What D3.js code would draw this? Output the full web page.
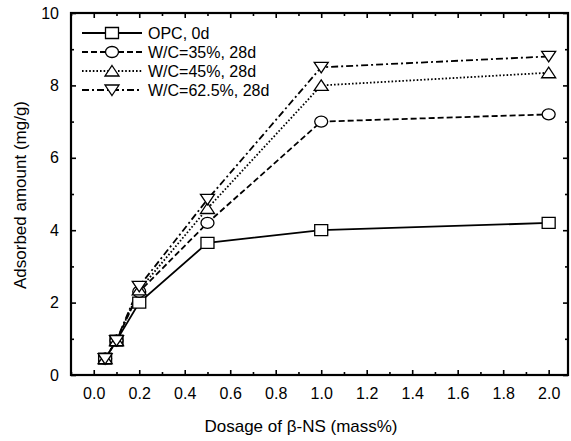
<!DOCTYPE html>
<html>
<head>
<meta charset="utf-8">
<script src="https://cdn.jsdelivr.net/npm/d3@7"></script>
<style>
  body { margin: 0; background: #fff; }
  text { font-family: "Liberation Sans", Arial, sans-serif; fill: #000; }
</style>
</head>
<body>
<div id="chart"></div>
<script>
// DATA
const dosage = [0.05, 0.1, 0.2, 0.5, 1.0, 2.0];
const opc0d = [0.45, 0.95, 2.0, 3.65, 4.0, 4.2];
const wc35 = [0.45, 0.95, 2.3, 4.2, 7.0, 7.2];
const wc45 = [0.45, 0.95, 2.35, 4.6, 8.0, 8.35];
const wc625 = [0.45, 0.95, 2.45, 4.85, 8.5, 8.8];
const seriesNames = ["OPC, 0d", "W/C=35%, 28d", "W/C=45%, 28d", "W/C=62.5%, 28d"];
const xTicks = [0.0, 0.2, 0.4, 0.6, 0.8, 1.0, 1.2, 1.4, 1.6, 1.8, 2.0];
const yTicks = [0, 2, 4, 6, 8, 10];

const W = 571, H = 441;
const margin = { top: 13, right: 3, bottom: 66, left: 71 };
const width = W - margin.left - margin.right;
const height = H - margin.top - margin.bottom;

const svg = d3.select("#chart").append("svg")
    .attr("width", W).attr("height", H);
const g = svg.append("g")
    .attr("transform", `translate(${margin.left},${margin.top})`);

const x = d3.scaleLinear().domain([-0.1, 2.085]).range([0, width]);
const y = d3.scaleLinear().domain([0, 10]).range([height, 0]);

const series = [
    { name: seriesNames[0], values: opc0d, dash: null, marker: "square" },
    { name: seriesNames[1], values: wc35, dash: "6,3", marker: "circle" },
    { name: seriesNames[2], values: wc45, dash: "1.6,2", marker: "up" },
    { name: seriesNames[3], values: wc625, dash: "7,3,2,3", marker: "down" }
];

// marker shapes (slightly wide, like the scan)
function markerPath(type) {
    if (type === "square") return "M-6.5,-5.5H6.5V5.5H-6.5Z";
    if (type === "up") return "M0,-5.5L7,5L-7,5Z";
    if (type === "down") return "M0,5.5L7,-5L-7,-5Z";
    return "M-6.5,0A6.5,5.5 0 1,0 6.5,0A6.5,5.5 0 1,0 -6.5,0Z";
}

// AXES (ticks inward on all four sides)
const minorX = d3.range(-0.1, 2.09, 0.1).map(v => +v.toFixed(1)).filter(v => !xTicks.includes(v));
const minorY = [1, 3, 5, 7, 9];

g.append("g").attr("transform", `translate(0,${height})`)
    .call(d3.axisBottom(x).tickValues(xTicks).tickSize(-5).tickPadding(13).tickFormat(d3.format(".1f")));
g.append("g").attr("transform", `translate(0,${height})`)
    .call(d3.axisBottom(x).tickValues(minorX).tickSize(-3).tickFormat(""));
g.append("g")
    .call(d3.axisTop(x).tickValues(xTicks).tickSize(-5).tickFormat(""));
g.append("g")
    .call(d3.axisTop(x).tickValues(minorX).tickSize(-3).tickFormat(""));
g.append("g")
    .call(d3.axisLeft(y).tickValues(yTicks).tickSize(-5).tickPadding(12).tickFormat(d3.format("d")));
g.append("g")
    .call(d3.axisLeft(y).tickValues(minorY).tickSize(-3).tickFormat(""));
g.append("g").attr("transform", `translate(${width},0)`)
    .call(d3.axisRight(y).tickValues(yTicks).tickSize(-5).tickFormat(""));
g.append("g").attr("transform", `translate(${width},0)`)
    .call(d3.axisRight(y).tickValues(minorY).tickSize(-3).tickFormat(""));

g.selectAll(".domain").remove();
g.selectAll(".tick line").attr("stroke", "#000").attr("stroke-width", 1.6);
g.selectAll(".tick text").attr("font-size", "16px").attr("font-family", "Liberation Sans, Arial, sans-serif");

// frame
g.append("rect")
    .attr("width", width).attr("height", height)
    .attr("fill", "none").attr("stroke", "#000").attr("stroke-width", 2.2);

// LINES
const line = d3.line()
    .x((d, i) => x(dosage[i]))
    .y(d => y(d));

series.forEach(s => {
    g.append("path")
        .datum(s.values)
        .attr("fill", "none")
        .attr("stroke", "#000")
        .attr("stroke-width", 1.8)
        .attr("stroke-dasharray", s.dash)
        .attr("d", line);
});

series.forEach(s => {
    g.selectAll(null)
        .data(s.values)
        .enter()
        .append("path")
        .attr("d", markerPath(s.marker))
        .attr("transform", (d, i) => `translate(${x(dosage[i])},${y(d)})`)
        .attr("fill", "#fff")
        .attr("stroke", "#000")
        .attr("stroke-width", 1.3);
});

// LEGEND
const legend = svg.selectAll(".legend")
    .data(series)
    .enter()
    .append("g")
    .attr("transform", (d, i) => `translate(82,${33 + i * 19})`);

legend.append("line")
    .attr("x1", 0).attr("x2", 60)
    .attr("stroke", "#000").attr("stroke-width", 1.8)
    .attr("stroke-dasharray", d => d.dash);

legend.append("path")
    .attr("d", d => markerPath(d.marker))
    .attr("transform", "translate(30,0)")
    .attr("fill", "#fff").attr("stroke", "#000").attr("stroke-width", 1.3);

legend.append("text")
    .attr("x", 66).attr("y", 6)
    .attr("font-size", "16px")
    .text(d => d.name);

// AXIS TITLES
svg.append("text")
    .attr("x", 301).attr("y", 432)
    .attr("text-anchor", "middle")
    .attr("font-size", "17px")
    .text("Dosage of β-NS (mass%)");

svg.append("text")
    .attr("transform", "translate(26,195) rotate(-90)")
    .attr("text-anchor", "middle")
    .attr("font-size", "17px")
    .text("Adsorbed amount (mg/g)");
</script>
</body>
</html>
